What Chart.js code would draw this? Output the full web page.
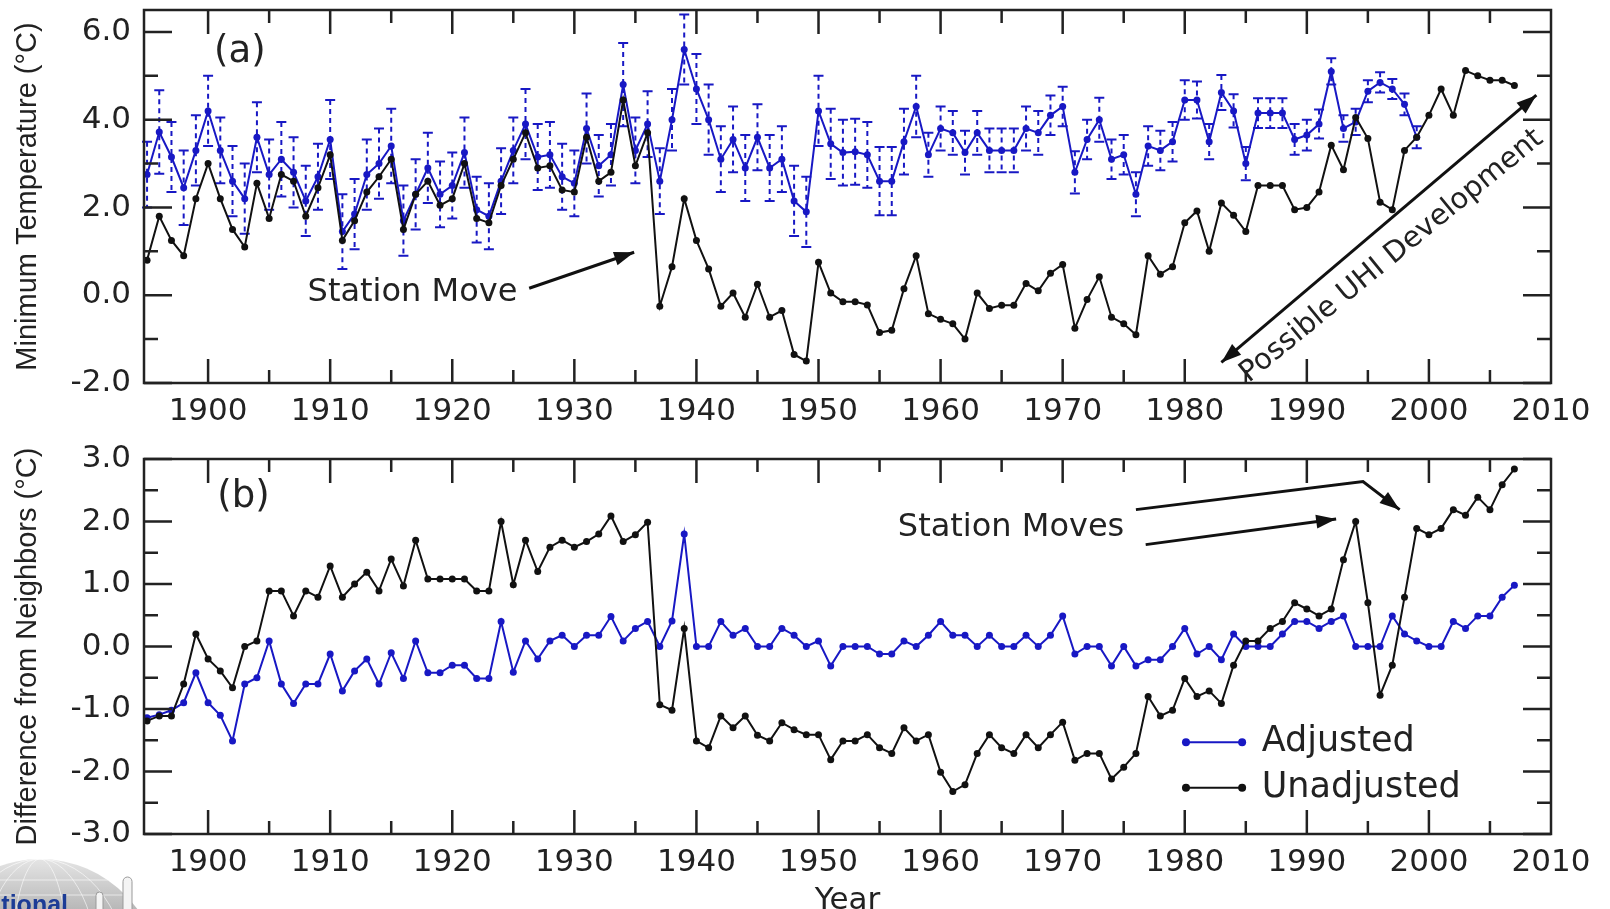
<!DOCTYPE html>
<html>
<head>
<meta charset="utf-8">
<script src="https://cdn.jsdelivr.net/npm/chart.js@4.4.0/dist/chart.umd.min.js"></script>
<style>
  body { margin: 0; background: #fff; overflow: hidden; }
  .panel { position: absolute; left: 0; }
</style>
</head>
<body>
<canvas id="chart-a" class="panel" style="top:0px" width="1610" height="440"></canvas>
<canvas id="chart-b" class="panel" style="top:440px" width="1610" height="469"></canvas>

<script>
const firstYear = 1895;
const yearTicks = [1900, 1910, 1920, 1930, 1940, 1950, 1960, 1970, 1980, 1990, 2000, 2010];
const minTempTicks = [-2, 0, 2, 4, 6];
const diffTicks = [-3, -2, -1, 0, 1, 2, 3];

// (a) minimum temperature (deg C), 1895-2007
const minTempUnadjusted = [
  0.8, 1.8, 1.25, 0.9, 2.2, 3.0, 2.2, 1.5, 1.1, 2.55,
  1.75, 2.75, 2.6, 1.8, 2.45, 3.2, 1.25, 1.7, 2.35, 2.7,
  3.1, 1.5, 2.3, 2.6, 2.05, 2.2, 3.0, 1.75, 1.65, 2.5,
  3.1, 3.7, 2.9, 2.95, 2.4, 2.35, 3.6, 2.6, 2.8, 4.45,
  2.95, 3.7, -0.25, 0.65, 2.2, 1.25, 0.6, -0.25, 0.05, -0.5,
  0.25, -0.5, -0.35, -1.35, -1.5, 0.75, 0.05, -0.15, -0.15, -0.22,
  -0.85, -0.8, 0.15, 0.9, -0.42, -0.55, -0.65, -1.0, 0.05, -0.3,
  -0.23, -0.23, 0.27, 0.1, 0.5, 0.7, -0.75, -0.1, 0.42, -0.5,
  -0.65, -0.9, 0.9, 0.48, 0.65, 1.65, 1.92, 1.0, 2.1, 1.82,
  1.45, 2.5, 2.5, 2.5, 1.95, 2.0, 2.35, 3.42, 2.86, 4.05,
  3.57, 2.12, 1.95, 3.3, 3.6, 4.1, 4.7, 4.1, 5.12, 5.0,
  4.9, 4.9, 4.78
];
// (a) adjusted, 1895-1999, with error bar half widths
const minTempAdjusted = [
  2.75, 3.72, 3.15, 2.45, 3.3, 4.2, 3.3, 2.6, 2.2, 3.6,
  2.75, 3.1, 2.8, 2.15, 2.7, 3.55, 1.45, 1.85, 2.75, 3.0,
  3.4, 1.7, 2.3, 2.9, 2.3, 2.5, 3.25, 1.95, 1.8, 2.6,
  3.3, 3.9, 3.15, 3.2, 2.7, 2.55, 3.8, 2.95, 3.2, 4.8,
  3.3, 3.9, 2.6, 4.0, 5.6, 4.7, 4.0, 3.1, 3.55, 2.9,
  3.6, 2.9, 3.1, 2.15, 1.9, 4.2, 3.45, 3.25, 3.27, 3.2,
  2.6, 2.6, 3.5, 4.3, 3.2, 3.8, 3.7, 3.25, 3.7, 3.3,
  3.3, 3.3, 3.8, 3.7, 4.1, 4.3, 2.8, 3.55, 4.0, 3.1,
  3.2, 2.3, 3.4, 3.3, 3.5, 4.45, 4.45, 3.5, 4.62, 4.2,
  3.0, 4.15, 4.15, 4.15, 3.55, 3.65, 3.9, 5.1, 3.8, 3.95,
  4.65, 4.85, 4.7, 4.35, 3.6
];
const minTempAdjustedErr = [
  0.75, 0.95, 0.8, 0.85, 0.8, 0.8, 0.75, 0.8, 0.8, 0.8,
  0.8, 0.85, 0.8, 0.8, 0.75, 0.9, 0.85, 0.8, 0.8, 0.8,
  0.85, 0.8, 0.8, 0.8, 0.75, 0.75, 0.8, 0.75, 0.75, 0.75,
  0.75, 0.8, 0.75, 0.75, 0.75, 0.75, 0.8, 0.7, 0.7, 0.95,
  0.75, 0.75, 0.75, 0.7, 0.8, 0.8, 0.8, 0.75, 0.75, 0.75,
  0.75, 0.75, 0.75, 0.8, 0.8, 0.8, 0.8, 0.75, 0.75, 0.75,
  0.78, 0.78, 0.75, 0.7, 0.5, 0.5, 0.5, 0.5, 0.5, 0.5,
  0.5, 0.5, 0.5, 0.5, 0.45, 0.45, 0.48, 0.45, 0.5, 0.45,
  0.45, 0.5, 0.45, 0.45, 0.45, 0.45, 0.42, 0.4, 0.4, 0.38,
  0.38, 0.34, 0.34, 0.34, 0.35, 0.35, 0.33, 0.3, 0.3, 0.3,
  0.25, 0.23, 0.23, 0.25, 0.25
];

// (b) difference from neighbors (deg C), 1895-2007
const diffUnadjusted = [
  -1.19, -1.11, -1.11, -0.6, 0.2, -0.2, -0.39, -0.66, 0.0, 0.09,
  0.89, 0.89, 0.49, 0.89, 0.79, 1.29, 0.79, 1.0, 1.19, 0.89,
  1.4, 0.97, 1.7, 1.08, 1.08, 1.08, 1.08, 0.89, 0.89, 2.0,
  0.99, 1.7, 1.2, 1.59, 1.7, 1.59, 1.68, 1.8, 2.09, 1.68,
  1.79, 1.99, -0.93, -1.02, 0.29, -1.51, -1.62, -1.11, -1.3, -1.11,
  -1.42, -1.51, -1.22, -1.33, -1.41, -1.41, -1.81, -1.51, -1.51, -1.41,
  -1.62, -1.71, -1.3, -1.51, -1.41, -2.01, -2.32, -2.21, -1.71, -1.41,
  -1.62, -1.71, -1.41, -1.62, -1.41, -1.21, -1.82, -1.71, -1.71, -2.12,
  -1.93, -1.71, -0.8, -1.11, -1.02, -0.51, -0.8, -0.71, -0.91, -0.3,
  0.09, 0.09, 0.29, 0.4, 0.7, 0.6, 0.49, 0.6, 1.39, 2.0,
  0.7, -0.78, -0.3, 0.79, 1.89, 1.79, 1.89, 2.19, 2.1, 2.39,
  2.19, 2.59, 2.84
];
const diffAdjusted = [
  -1.14, -1.09, -1.02, -0.9, -0.42, -0.9, -1.1, -1.51, -0.6, -0.5,
  0.09, -0.6, -0.91, -0.6, -0.6, -0.12, -0.71, -0.39, -0.2, -0.6,
  -0.1, -0.51, 0.09, -0.42, -0.42, -0.3, -0.3, -0.51, -0.51, 0.4,
  -0.41, 0.09, -0.2, 0.09, 0.18, 0.0, 0.18, 0.18, 0.48, 0.09,
  0.29, 0.4, 0.0, 0.41, 1.8, 0.0, 0.0, 0.4, 0.18, 0.29,
  0.0, 0.0, 0.29, 0.18, 0.0, 0.09, -0.31, 0.0, 0.0, 0.0,
  -0.12, -0.12, 0.09, 0.0, 0.18, 0.4, 0.18, 0.18, 0.0, 0.18,
  0.0, 0.0, 0.18, 0.0, 0.18, 0.49, -0.12, 0.0, 0.0, -0.31,
  0.0, -0.31, -0.21, -0.21, 0.0, 0.29, -0.12, 0.0, -0.21, 0.2,
  0.0, 0.0, 0.0, 0.2, 0.4, 0.4, 0.29, 0.4, 0.49, 0.0,
  0.0, 0.0, 0.49, 0.2, 0.09, 0.0, 0.0, 0.4, 0.29, 0.49,
  0.49, 0.79, 0.98
];

const blue = '#1818c4';
const black = '#111111';
const textColor = '#222222';
const tickFont = { family: "'DejaVu Sans', sans-serif", size: 31 };
const titleFont = { family: "'Liberation Sans', Arial, sans-serif", size: 29 };

function toPoints(values) {
  return values.map((v, i) => ({ x: firstYear + i, y: v }));
}

function arrowHead(ctx, from, to) {
  const ang = Math.atan2(to[1] - from[1], to[0] - from[0]);
  const len = 20, half = 7;
  ctx.beginPath();
  ctx.moveTo(to[0], to[1]);
  ctx.lineTo(to[0] - len * Math.cos(ang) + half * Math.sin(ang), to[1] - len * Math.sin(ang) - half * Math.cos(ang));
  ctx.lineTo(to[0] - len * Math.cos(ang) - half * Math.sin(ang), to[1] - len * Math.sin(ang) + half * Math.cos(ang));
  ctx.closePath();
  ctx.fill();
}

function drawArrow(ctx, pts, bothEnds) {
  ctx.beginPath();
  pts.forEach((p, i) => i ? ctx.lineTo(p[0], p[1]) : ctx.moveTo(p[0], p[1]));
  ctx.stroke();
  arrowHead(ctx, pts[pts.length - 2], pts[pts.length - 1]);
  if (bothEnds) arrowHead(ctx, pts[1], pts[0]);
}

//box round the plot with inward ticks on all four sides
function framePlugin(yMajor, yMinor) {
  return {
    id: 'frame',
    afterDatasetsDraw(chart) {
      const { ctx, chartArea: a, scales: { x, y } } = chart;
      ctx.save();
      ctx.strokeStyle = '#222';
      ctx.lineWidth = 2.5;
      ctx.strokeRect(a.left, a.top, a.right - a.left, a.bottom - a.top);
      ctx.beginPath();
      for (let yr = 1900; yr < 2010; yr += 5) {
        const px = x.getPixelForValue(yr);
        const len = yr % 10 === 0 ? 24 : 13;
        ctx.moveTo(px, a.bottom); ctx.lineTo(px, a.bottom - len);
        ctx.moveTo(px, a.top); ctx.lineTo(px, a.top + len);
      }
      yMajor.concat(yMinor).forEach(v => {
        const py = y.getPixelForValue(v);
        const len = yMajor.includes(v) ? 28 : 14;
        ctx.moveTo(a.left, py); ctx.lineTo(a.left + len, py);
        ctx.moveTo(a.right, py); ctx.lineTo(a.right - len, py);
      });
      ctx.stroke();
      ctx.restore();
    }
  };
}

//dashed error bars for the adjusted series of panel (a)
const errorBarPlugin = {
  id: 'errorBars',
  beforeDatasetsDraw(chart) {
    const { ctx, scales: { x, y } } = chart;
    ctx.save();
    ctx.strokeStyle = blue;
    ctx.lineWidth = 2;
    minTempAdjusted.forEach((v, i) => {
      const px = x.getPixelForValue(firstYear + i);
      const top = y.getPixelForValue(v + minTempAdjustedErr[i]);
      const bot = y.getPixelForValue(v - minTempAdjustedErr[i]);
      ctx.setLineDash([5, 4]);
      ctx.beginPath(); ctx.moveTo(px, top); ctx.lineTo(px, bot); ctx.stroke();
      ctx.setLineDash([]);
      ctx.beginPath();
      ctx.moveTo(px - 5, top); ctx.lineTo(px + 5, top);
      ctx.moveTo(px - 5, bot); ctx.lineTo(px + 5, bot);
      ctx.stroke();
    });
    ctx.restore();
  }
};

const notesA = {
  id: 'notesA',
  afterDraw(chart) {
    const { ctx, scales: { x, y } } = chart;
    const p = (yr, v) => [x.getPixelForValue(yr), y.getPixelForValue(v)];
    ctx.save();
    ctx.fillStyle = textColor;
    ctx.textBaseline = 'middle';
    ctx.font = "37px 'DejaVu Sans'";
    ctx.textAlign = 'center';
    ctx.fillText('(a)', ...p(1902.6, 5.54));
    ctx.font = "32px 'DejaVu Sans'";
    ctx.textAlign = 'left';
    ctx.fillText('Station Move', ...p(1908.15, 0.05));

    ctx.strokeStyle = '#111';
    ctx.fillStyle = '#111';
    ctx.lineWidth = 3;
    drawArrow(ctx, [p(1926.3, 0.16), p(1934.9, 0.98)], false);
    drawArrow(ctx, [p(1983.0, -1.53), p(2008.8, 4.56)], true);

    const c = p(1996.95, 0.89);
    ctx.translate(c[0], c[1]);
    ctx.rotate(-39.3 * Math.PI / 180);
    ctx.fillStyle = textColor;
    ctx.font = "29px 'DejaVu Sans'";
    ctx.textAlign = 'center';
    ctx.fillText('Possible UHI Development', 0, 0);
    ctx.restore();
  }
};

const notesB = {
  id: 'notesB',
  afterDraw(chart) {
    const { ctx, chartArea: a, scales: { x, y } } = chart;
    const p = (yr, v) => [x.getPixelForValue(yr), y.getPixelForValue(v)];
    ctx.save();
    ctx.fillStyle = textColor;
    ctx.textBaseline = 'middle';
    ctx.font = "37px 'DejaVu Sans'";
    ctx.textAlign = 'center';
    ctx.fillText('(b)', ...p(1902.9, 2.38));
    ctx.font = "31px 'DejaVu Sans'";
    ctx.fillText('Year', (a.left + a.right) / 2, a.bottom + 67);
    ctx.font = "32px 'DejaVu Sans'";
    ctx.textAlign = 'left';
    ctx.fillText('Station Moves', ...p(1956.5, 1.9));

    ctx.strokeStyle = '#111';
    ctx.fillStyle = '#111';
    ctx.lineWidth = 3;
    drawArrow(ctx, [p(1976.0, 2.19), p(1994.6, 2.64), p(1997.6, 2.19)], false);
    drawArrow(ctx, [p(1976.8, 1.63), p(1992.4, 2.04)], false);

    // legend
    const rows = [['Adjusted', blue, -1.53], ['Unadjusted', black, -2.26]];
    ctx.lineWidth = 2;
    rows.forEach(([label, color, v]) => {
      const l = p(1980.1, v), r = p(1984.7, v);
      ctx.strokeStyle = color;
      ctx.fillStyle = color;
      ctx.beginPath(); ctx.moveTo(l[0], l[1]); ctx.lineTo(r[0], r[1]); ctx.stroke();
      [l, r].forEach(d => { ctx.beginPath(); ctx.arc(d[0], d[1], 4, 0, Math.PI * 2); ctx.fill(); });
      ctx.fillStyle = textColor;
      ctx.font = "35px 'DejaVu Sans'";
      ctx.fillText(label, ...p(1986.3, v));
    });
    ctx.restore();

    // corner logo fragment
    ctx.save();
    const grad = ctx.createLinearGradient(0, 420, 0, 469);
    grad.addColorStop(0, '#e4e4e4');
    grad.addColorStop(1, '#b8b8b8');
    ctx.beginPath();
    ctx.ellipse(40, 545, 122, 126, 0, 0, Math.PI * 2);
    ctx.fillStyle = grad;
    ctx.fill();
    ctx.clip();
    ctx.strokeStyle = 'rgba(255,255,255,0.6)';
    ctx.lineWidth = 1;
    [30, 60, 90].forEach(rx => { ctx.beginPath(); ctx.ellipse(40, 545, rx, 126, 0, 0, Math.PI * 2); ctx.stroke(); });
    [440, 455].forEach(yy => { ctx.beginPath(); ctx.moveTo(0, yy); ctx.lineTo(170, yy); ctx.stroke(); });
    ctx.restore();
    ctx.save();
    [[96, 452, 7], [123, 437, 9]].forEach(([px, py, w]) => {
      ctx.fillStyle = '#f4f4f4';
      ctx.strokeStyle = '#999';
      ctx.lineWidth = 1;
      ctx.beginPath();
      ctx.moveTo(px, 469); ctx.lineTo(px, py + w / 2);
      ctx.arc(px + w / 2, py + w / 2, w / 2, Math.PI, 0);
      ctx.lineTo(px + w, 469);
      ctx.fill(); ctx.stroke();
    });
    ctx.fillStyle = '#1c3c96';
    ctx.font = "bold 25px 'Liberation Sans'";
    ctx.textAlign = 'right';
    ctx.textBaseline = 'alphabetic';
    ctx.fillText('tional', 68, 473);
    ctx.restore();
  }
};

function makeOptions(yMin, yMax, yTicks, padTop, xHeight, yTitle) {
  return {
    responsive: false,
    animation: false,
    layout: { padding: { top: padTop, right: 59, left: 0, bottom: 0 } },
    plugins: { legend: { display: false }, tooltip: { enabled: false } },
    scales: {
      x: {
        type: 'linear',
        min: 1894.75,
        max: 2010,
        afterBuildTicks: axis => { axis.ticks = yearTicks.map(v => ({ value: v })); },
        afterFit: axis => {
          axis.height = xHeight;
          axis.paddingLeft = 0; axis.paddingRight = 0;
        },
        grid: { display: false, drawTicks: false },
        border: { display: false },
        ticks: { font: tickFont, color: textColor, padding: 10, maxRotation: 0, autoSkip: false, callback: v => String(v) }
      },
      y: {
        min: yMin,
        max: yMax,
        afterBuildTicks: axis => { axis.ticks = yTicks.map(v => ({ value: v })); },
        afterFit: axis => {
          axis.width = 144;
          axis.paddingTop = 0; axis.paddingBottom = 0;
        },
        grid: { display: false, drawTicks: false },
        border: { display: false },
        ticks: { font: tickFont, color: textColor, padding: 13, callback: v => v.toFixed(1) },
        title: { display: true, text: yTitle, font: titleFont, color: '#222', padding: { top: 11, bottom: 0 } }
      }
    }
  };
}

function lineSet(label, values, color) {
  return {
    label: label,
    data: toPoints(values),
    borderColor: color,
    backgroundColor: color,
    borderWidth: 2,
    pointRadius: 3.5,
    pointBorderWidth: 0,
    fill: false,
    tension: 0
  };
}

new Chart(document.getElementById('chart-a'), {
  type: 'line',
  data: {
    datasets: [
      lineSet('Unadjusted', minTempUnadjusted, black),
      lineSet('Adjusted', minTempAdjusted, blue)
    ]
  },
  options: makeOptions(-2, 6.5, minTempTicks, 10, 57, 'Minimum Temperature (°C)'),
  plugins: [errorBarPlugin, framePlugin(minTempTicks, [-1, 1, 3, 5]), notesA]
});

new Chart(document.getElementById('chart-b'), {
  type: 'line',
  data: {
    datasets: [
      lineSet('Unadjusted', diffUnadjusted, black),
      lineSet('Adjusted', diffAdjusted, blue)
    ]
  },
  options: makeOptions(-3, 3, diffTicks, 19, 75, 'Difference from Neighbors (°C)'),
  plugins: [framePlugin(diffTicks, [-2.5, -1.5, -0.5, 0.5, 1.5, 2.5]), notesB]
});
</script>
</body>
</html>
